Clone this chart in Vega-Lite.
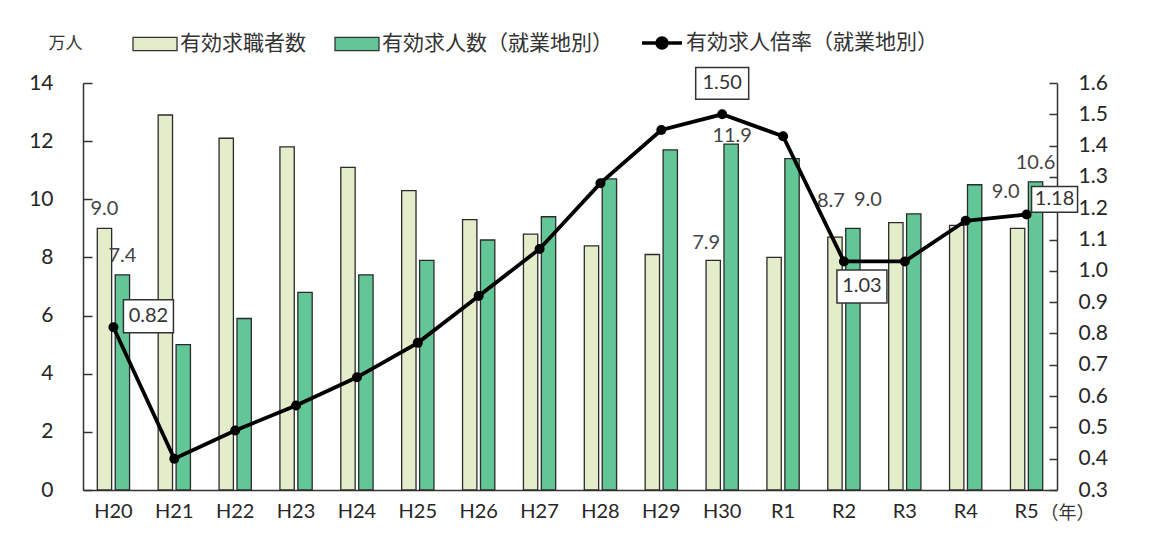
{
  "$schema": "https://vega.github.io/schema/vega-lite/v6.json",
  "width": 974,
  "height": 407,
  "autosize": {"type": "none"},
  "padding": {"left": 83, "top": 83, "right": 92, "bottom": 58},
  "background": "white",
  "config": {
    "font": "Lato, 'Noto Sans CJK JP', sans-serif",
    "view": {"stroke": null},
    "axis": {"grid": false, "labelColor": "#262626", "titleColor": "#333", "domainColor": "#333", "tickColor": "#333", "domainWidth": 1.5, "tickWidth": 1.5},
    "legend": {"labelColor": "#333"}
  },
  "datasets": {
    "bars": [
      {"year": "H20", "series": "有効求職者数", "value": 9.0},
      {"year": "H21", "series": "有効求職者数", "value": 12.9},
      {"year": "H22", "series": "有効求職者数", "value": 12.1},
      {"year": "H23", "series": "有効求職者数", "value": 11.8},
      {"year": "H24", "series": "有効求職者数", "value": 11.1},
      {"year": "H25", "series": "有効求職者数", "value": 10.3},
      {"year": "H26", "series": "有効求職者数", "value": 9.3},
      {"year": "H27", "series": "有効求職者数", "value": 8.8},
      {"year": "H28", "series": "有効求職者数", "value": 8.4},
      {"year": "H29", "series": "有効求職者数", "value": 8.1},
      {"year": "H30", "series": "有効求職者数", "value": 7.9},
      {"year": "R1", "series": "有効求職者数", "value": 8.0},
      {"year": "R2", "series": "有効求職者数", "value": 8.7},
      {"year": "R3", "series": "有効求職者数", "value": 9.2},
      {"year": "R4", "series": "有効求職者数", "value": 9.1},
      {"year": "R5", "series": "有効求職者数", "value": 9.0},
      {"year": "H20", "series": "有効求人数（就業地別）", "value": 7.4},
      {"year": "H21", "series": "有効求人数（就業地別）", "value": 5.0},
      {"year": "H22", "series": "有効求人数（就業地別）", "value": 5.9},
      {"year": "H23", "series": "有効求人数（就業地別）", "value": 6.8},
      {"year": "H24", "series": "有効求人数（就業地別）", "value": 7.4},
      {"year": "H25", "series": "有効求人数（就業地別）", "value": 7.9},
      {"year": "H26", "series": "有効求人数（就業地別）", "value": 8.6},
      {"year": "H27", "series": "有効求人数（就業地別）", "value": 9.4},
      {"year": "H28", "series": "有効求人数（就業地別）", "value": 10.7},
      {"year": "H29", "series": "有効求人数（就業地別）", "value": 11.7},
      {"year": "H30", "series": "有効求人数（就業地別）", "value": 11.9},
      {"year": "R1", "series": "有効求人数（就業地別）", "value": 11.4},
      {"year": "R2", "series": "有効求人数（就業地別）", "value": 9.0},
      {"year": "R3", "series": "有効求人数（就業地別）", "value": 9.5},
      {"year": "R4", "series": "有効求人数（就業地別）", "value": 10.5},
      {"year": "R5", "series": "有効求人数（就業地別）", "value": 10.6}
    ],
    "ratio": [
      {"year": "H20", "ratio": 0.82},
      {"year": "H21", "ratio": 0.40},
      {"year": "H22", "ratio": 0.49},
      {"year": "H23", "ratio": 0.57},
      {"year": "H24", "ratio": 0.66},
      {"year": "H25", "ratio": 0.77},
      {"year": "H26", "ratio": 0.92},
      {"year": "H27", "ratio": 1.07},
      {"year": "H28", "ratio": 1.28},
      {"year": "H29", "ratio": 1.45},
      {"year": "H30", "ratio": 1.50},
      {"year": "R1", "ratio": 1.43},
      {"year": "R2", "ratio": 1.03},
      {"year": "R3", "ratio": 1.03},
      {"year": "R4", "ratio": 1.16},
      {"year": "R5", "ratio": 1.18}
    ]
  },
  "encoding": {
    "x": {
      "field": "year", "type": "nominal", "sort": null,
      "scale": {"domain": ["H20","H21","H22","H23","H24","H25","H26","H27","H28","H29","H30","R1","R2","R3","R4","R5"], "paddingInner": 0.47, "paddingOuter": 0.235},
      "axis": {"orient": "bottom", "ticks": false, "labelPadding": 11, "labelFontSize": 20, "labelAngle": 0, "title": "（年）", "titleX": 957, "titleY": 23, "titleAlign": "left", "titleBaseline": "middle", "titleFontSize": 18, "titleFontWeight": "normal", "titleAngle": 0}
    }
  },
  "layer": [
    {
      "data": {"name": "bars"},
      "encoding": {
        "xOffset": {"field": "series", "type": "nominal", "sort": null, "scale": {"domain": ["有効求職者数", "有効求人数（就業地別）"], "paddingInner": 0.2, "paddingOuter": 0}},
        "y": {"field": "value", "type": "quantitative", "scale": {"domain": [0, 14], "nice": false, "zero": true},
          "axis": {"orient": "left", "values": [0,2,4,6,8,10,12,14], "labelFontSize": 21, "tickSize": -9, "labelPadding": 39, "title": "万人", "titleAngle": 0, "titleX": -35, "titleY": -40, "titleAlign": "left", "titleBaseline": "middle", "titleFontSize": 17, "titleFontWeight": "normal"}}
      },
      "layer": [
        {
          "mark": {"type": "bar", "stroke": "#2b2b2b", "strokeWidth": 1.3},
          "encoding": {
            "fill": {"field": "series", "type": "nominal", "scale": {"domain": ["有効求職者数", "有効求人数（就業地別）"], "range": ["#e4ecca", "#62c696"]},
              "legend": {"orient": "none", "legendX": 49, "legendY": -62, "direction": "horizontal", "title": null, "symbolType": "M-1,-0.3H1V0.3H-1Z", "symbolSize": 1936, "symbolStrokeColor": "#333", "symbolStrokeWidth": 1.3, "labelFontSize": 21, "labelLimit": 400, "columnPadding": 26, "labelOffset": 2}}
          }
        },
        {
          "transform": [{"filter": "(datum.year === 'H20') || (datum.year === 'R5' && datum.series === '有効求人数（就業地別）')"}],
          "mark": {"type": "text", "fontSize": 20, "color": "#444", "dy": -19, "baseline": "middle"},
          "encoding": {"text": {"field": "value", "type": "quantitative", "format": ".1f"}}
        },
        {
          "transform": [{"filter": "datum.year === 'H30' && datum.series === '有効求職者数'"}],
          "mark": {"type": "text", "fontSize": 20, "color": "#444", "dx": -7, "dy": -17, "baseline": "middle"},
          "encoding": {"text": {"field": "value", "type": "quantitative", "format": ".1f"}}
        },
        {
          "transform": [{"filter": "datum.year === 'H30' && datum.series === '有効求人数（就業地別）'"}],
          "mark": {"type": "text", "fontSize": 20, "color": "#444", "dx": 1, "dy": -8, "baseline": "middle"},
          "encoding": {"text": {"field": "value", "type": "quantitative", "format": ".1f"}}
        },
        {
          "transform": [{"filter": "datum.year === 'R2' && datum.series === '有効求職者数'"}],
          "mark": {"type": "text", "fontSize": 20, "color": "#444", "dx": -4, "dy": -36, "baseline": "middle"},
          "encoding": {"text": {"field": "value", "type": "quantitative", "format": ".1f"}}
        },
        {
          "transform": [{"filter": "datum.year === 'R2' && datum.series === '有効求人数（就業地別）'"}],
          "mark": {"type": "text", "fontSize": 20, "color": "#444", "dx": 15, "dy": -28, "baseline": "middle"},
          "encoding": {"text": {"field": "value", "type": "quantitative", "format": ".1f"}}
        },
        {
          "transform": [{"filter": "datum.year === 'R5' && datum.series === '有効求職者数'"}],
          "mark": {"type": "text", "fontSize": 20, "color": "#444", "dx": -12, "dy": -36, "baseline": "middle"},
          "encoding": {"text": {"field": "value", "type": "quantitative", "format": ".1f"}}
        }
      ]
    },
    {
      "data": {"name": "ratio"},
      "encoding": {
        "y": {"field": "ratio", "type": "quantitative", "scale": {"domain": [0.3, 1.6], "nice": false, "zero": false},
          "axis": {"orient": "right", "values": [0.3,0.4,0.5,0.6,0.7,0.8,0.9,1.0,1.1,1.2,1.3,1.4,1.5,1.6], "format": ".1f", "labelFontSize": 21, "tickSize": -8, "labelPadding": 29, "title": null}}
      },
      "layer": [
        {
          "mark": {"type": "line", "strokeWidth": 3.8},
          "encoding": {
            "stroke": {"datum": "有効求人倍率（就業地別）", "type": "nominal", "scale": {"range": ["#000000"]},
              "legend": {"orient": "none", "legendX": 557, "legendY": -62, "direction": "horizontal", "title": null, "symbolType": "M-1,0H1M-0.25,0A0.25,0.25,0,1,1,0.25,0A0.25,0.25,0,1,1,-0.25,0Z", "symbolSize": 1600, "symbolStrokeWidth": 3.5, "symbolFillColor": "#000", "labelFontSize": 21, "labelLimit": 400, "labelOffset": 2}}
          }
        },
        {"mark": {"type": "point", "filled": true, "color": "#000", "size": 100, "opacity": 1}},
        {
          "transform": [{"filter": "datum.year === 'H20'"}],
          "layer": [
            {"mark": {"type": "point", "shape": "M-1,-0.66H1V0.66H-1Z", "size": 2500, "filled": true, "fill": "white", "stroke": "#333", "strokeWidth": 1.5, "opacity": 1, "xOffset": 35, "yOffset": -11}},
            {"mark": {"type": "text", "fontSize": 20, "color": "#333", "dx": 35, "dy": -11, "baseline": "middle"}, "encoding": {"text": {"field": "ratio", "type": "quantitative", "format": ".2f"}}}
          ]
        },
        {
          "transform": [{"filter": "datum.year === 'H30'"}],
          "layer": [
            {"mark": {"type": "point", "shape": "M-1,-0.6H1V0.6H-1Z", "size": 2809, "filled": true, "fill": "white", "stroke": "#333", "strokeWidth": 1.5, "opacity": 1, "xOffset": 0, "yOffset": -31}},
            {"mark": {"type": "text", "fontSize": 20, "color": "#333", "dx": 0, "dy": -31, "baseline": "middle"}, "encoding": {"text": {"field": "ratio", "type": "quantitative", "format": ".2f"}}}
          ]
        },
        {
          "transform": [{"filter": "datum.year === 'R2'"}],
          "layer": [
            {"mark": {"type": "point", "shape": "M-1,-0.66H1V0.66H-1Z", "size": 2500, "filled": true, "fill": "white", "stroke": "#333", "strokeWidth": 1.5, "opacity": 1, "xOffset": 18, "yOffset": 25}},
            {"mark": {"type": "text", "fontSize": 20, "color": "#333", "dx": 18, "dy": 25, "baseline": "middle"}, "encoding": {"text": {"field": "ratio", "type": "quantitative", "format": ".2f"}}}
          ]
        },
        {
          "transform": [{"filter": "datum.year === 'R5'"}],
          "layer": [
            {"mark": {"type": "point", "shape": "M-1,-0.56H1V0.56H-1Z", "size": 2116, "filled": true, "fill": "white", "stroke": "#333", "strokeWidth": 1.5, "opacity": 1, "xOffset": 28, "yOffset": -15}},
            {"mark": {"type": "text", "fontSize": 20, "color": "#333", "dx": 28, "dy": -15, "baseline": "middle"}, "encoding": {"text": {"field": "ratio", "type": "quantitative", "format": ".2f"}}}
          ]
        }
      ]
    }
  ],
  "resolve": {"scale": {"y": "independent"}}
}
